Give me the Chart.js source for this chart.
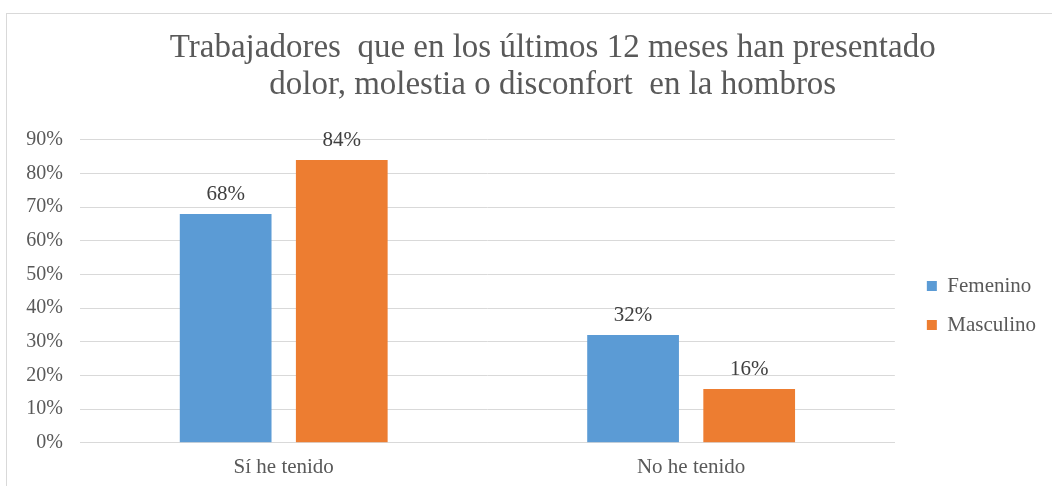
<!DOCTYPE html>
<html lang="es">

<head>
    <meta charset="UTF-8">
    <title>Trabajadores - hombros</title>
    <script src="https://cdn.jsdelivr.net/npm/chart.js"></script>
    <style>
        body { margin: 0; background: #fff; overflow: hidden; }
        #wrap { position: relative; width: 1052px; height: 486px; }
        #marco { position: absolute; left: 6px; top: 13px; width: 1100px; height: 500px; border: 1px solid #d9d9d9; pointer-events: none; }
        canvas { position: absolute; left: 0; top: 0; }
    </style>
</head>

<body>
    <div id="wrap">
        <canvas id="grafico" width="1052" height="486"></canvas>
        <div id="marco"></div>
    </div>

    <script>
        // datos
        var categorias = ['Sí he tenido', 'No he tenido'];
        var femenino = [68, 32];
        var masculino = [84, 16];
        var ticksY = [0, 10, 20, 30, 40, 50, 60, 70, 80, 90];

        var gris = '#595959';
        var fuente = 'Liberation Serif';
        // el título del original está centrado en un marco más ancho que la imagen,
        // se desplaza con espacios al principio
        var sangria = '      ';

        // etiquetas de valor encima de cada barra
        var etiquetas = {
            id: 'etiquetas',
            afterDatasetsDraw: function (chart) {
                var ctx = chart.ctx;
                ctx.save();
                ctx.font = '21px "' + fuente + '"';
                ctx.fillStyle = '#404040';
                ctx.textAlign = 'center';
                ctx.textBaseline = 'bottom';
                chart.data.datasets.forEach(function (ds, i) {
                    chart.getDatasetMeta(i).data.forEach(function (bar, j) {
                        ctx.fillText(ds.data[j] + '%', bar.x, bar.y - 9);
                    });
                });
                ctx.restore();
            }
        };

        new Chart(document.getElementById('grafico'), {
            type: 'bar',
            data: {
                labels: categorias,
                datasets: [{
                    label: 'Femenino',
                    data: femenino,
                    backgroundColor: '#5B9BD5',
                    categoryPercentage: 0.57,
                    barPercentage: 0.79
                }, {
                    label: 'Masculino',
                    data: masculino,
                    backgroundColor: '#ED7D31',
                    categoryPercentage: 0.57,
                    barPercentage: 0.79
                }]
            },
            options: {
                responsive: false,
                animation: false,
                layout: { padding: { left: 10, right: 6, top: 20, bottom: -6 } },
                plugins: {
                    title: {
                        display: true,
                        text: [sangria + 'Trabajadores  que en los últimos 12 meses han presentado', sangria + 'dolor, molestia o disconfort  en la hombros'],
                        color: gris,
                        font: { family: fuente, size: 33, weight: 'normal', lineHeight: 1.12 },
                        padding: { top: 10, bottom: 36 }
                    },
                    legend: {
                        position: 'right',
                        fullSize: false,
                        title: { display: true, text: ' ', font: { size: 12 }, padding: { top: 14, bottom: 0 } },
                        labels: {
                            color: gris,
                            font: { family: fuente, size: 21 },
                            boxWidth: 10,
                            boxHeight: 10,
                            padding: 18
                        }
                    },
                    tooltip: { enabled: false }
                },
                scales: {
                    x: {
                        grid: { display: false, drawTicks: false },
                        border: { color: '#d9d9d9' },
                        ticks: { color: gris, font: { family: fuente, size: 21 }, padding: 12 }
                    },
                    y: {
                        min: 0,
                        max: 90,
                        afterBuildTicks: function (s) { s.ticks = ticksY.map(function (v) { return { value: v }; }); },
                        afterFit: function (s) { s.width = 70; },
                        grid: { color: '#d9d9d9', drawTicks: false },
                        border: { display: false },
                        ticks: {
                            color: gris,
                            font: { family: fuente, size: 20 },
                            padding: 17,
                            callback: function (v) { return v + '%'; }
                        }
                    },
                    relleno: {
                        position: 'right',
                        afterFit: function (s) { s.width = 14; },
                        grid: { display: false, drawTicks: false },
                        border: { display: false },
                        ticks: { display: false }
                    }
                }
            },
            plugins: [etiquetas]
        });
    </script>
</body>

</html>
